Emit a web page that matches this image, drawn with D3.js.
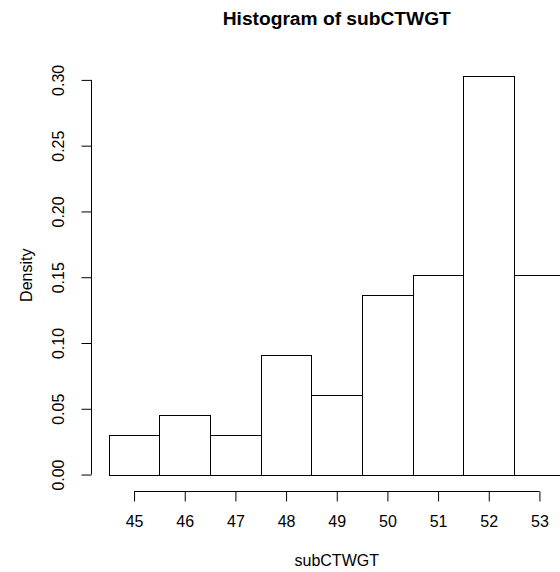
<!DOCTYPE html>
<html>
<head>
<meta charset="utf-8">
<script src="https://cdn.jsdelivr.net/npm/d3@7"></script>
<style>
  body { margin: 0; background: #fff; }
  text { font-family: "Liberation Sans", Arial, Helvetica, sans-serif; fill: #000; }
</style>
</head>
<body>
<div id="chart"></div>
<script>
// histogram data (density per unit-width bin)
var binStarts = [44.5, 45.5, 46.5, 47.5, 48.5, 49.5, 50.5, 51.5, 52.5]
var binWidth = 1
var densities = [0.0303, 0.0455, 0.0303, 0.0909, 0.0606, 0.1364, 0.1515, 0.3030, 0.1515]
var xTicks = [45, 46, 47, 48, 49, 50, 51, 52, 53]
var yTicks = [0, 0.05, 0.10, 0.15, 0.20, 0.25, 0.30]

var width = 560
var height = 572

// plot region (R style, 4% padding around data range)
var plotLeft = 90.5, plotRight = 583, plotTop = 60, plotBottom = 490.5

var svg = d3.select("#chart")
    .append("svg")
    .attr("width", width)
    .attr("height", height)

var x = d3.scaleLinear()
    .domain([44.14, 53.86])
    .range([plotLeft, plotRight])

var y = d3.scaleLinear()
    .domain([-0.01212, 0.31512])
    .range([plotBottom, plotTop])

// bars
svg.selectAll("rect.bar")
    .data(binStarts)
    .enter()
    .append("rect")
    .attr("class", "bar")
    .attr("x", function (d) { return Math.round(x(d)) + 0.5 })
    .attr("width", function (d) { return Math.round(x(d + binWidth)) - Math.round(x(d)) })
    .attr("y", function (d, i) { return Math.round(y(densities[i])) + 0.5 })
    .attr("height", function (d, i) { return Math.round(y(0)) - Math.round(y(densities[i])) })
    .attr("fill", "white")
    .attr("stroke", "#000")
    .attr("stroke-width", 1)

// x axis
var xAxis = d3.axisBottom(x)
    .tickValues(xTicks)
    .tickFormat(d3.format("d"))
    .tickSize(10)
    .tickSizeOuter(0)
    .tickPadding(14)

var gx = svg.append("g")
    .attr("transform", "translate(0," + (Math.round(plotBottom) + 0.5) + ")")
    .call(xAxis)
gx.select(".domain").attr("d", "M" + x(45) + ",0H" + x(53)).attr("stroke", "#000")
gx.selectAll(".tick line").attr("stroke", "#000")
gx.selectAll("text").style("font-size", "16px").attr("fill", "#000")

// y axis
var yAxis = d3.axisLeft(y)
    .tickValues(yTicks)
    .tickFormat(d3.format(".2f"))
    .tickSize(10)
    .tickSizeOuter(0)

var gy = svg.append("g")
    .attr("transform", "translate(" + (Math.round(plotLeft) + 0.5) + ",0)")
    .call(yAxis)
gy.select(".domain").attr("d", "M0," + y(0) + "V" + y(0.30)).attr("stroke", "#000")
gy.selectAll(".tick line").attr("stroke", "#000")
gy.selectAll("text")
    .style("font-size", "16px")
    .attr("fill", "#000")
    .attr("x", null)
    .attr("dy", null)
    .attr("text-anchor", "middle")
    .attr("transform", "translate(-28,0) rotate(-90)")

// titles
var cx = (plotLeft + plotRight) / 2
svg.append("text")
    .attr("x", cx)
    .attr("y", 25)
    .attr("text-anchor", "middle")
    .style("font-size", "19.2px")
    .style("font-weight", "bold")
    .text("Histogram of subCTWGT")

svg.append("text")
    .attr("x", cx)
    .attr("y", 566)
    .attr("text-anchor", "middle")
    .style("font-size", "16px")
    .text("subCTWGT")

svg.append("text")
    .attr("transform", "translate(32," + ((plotTop + plotBottom) / 2) + ") rotate(-90)")
    .attr("text-anchor", "middle")
    .style("font-size", "16px")
    .text("Density")
</script>
</body>
</html>
